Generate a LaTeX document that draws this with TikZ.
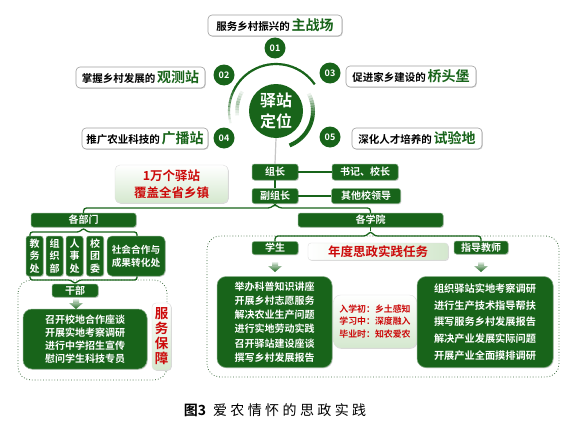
\documentclass[tikz,border=0pt]{standalone}
\usepackage{fontspec}
\setmainfont{Noto Sans CJK SC}[BoldFont={Noto Sans CJK SC Bold}]
\usetikzlibrary{shadows}
\definecolor{gdark}{RGB}{24,100,26}
\definecolor{gred}{RGB}{204,10,10}
\definecolor{gpale}{RGB}{212,232,206}
\tikzset{
 shad/.style={drop shadow={opacity=0.3, shadow xshift=0.8pt, shadow yshift=-0.8pt}},
 dbox/.style={draw=gdark!55!white, line width=0.5pt, fill=gdark, rounded corners=2.5, text=white,
   font=\bfseries\fontsize{10}{12}\selectfont, inner sep=0pt, align=center, shad},
 bigbox/.style={dbox, rounded corners=9},
 pbox/.style={draw=gray!25, line width=0.4pt, rounded corners=5, top color=white, bottom color=gpale,
   inner sep=0pt, align=center, text=gred, font=\bfseries, shad},
 lbl/.style={draw=gray!75, line width=0.6pt, fill=white, rounded corners=4, inner sep=0pt, shad},
 num/.style={circle, fill=gdark, text=white, minimum size=21, inner sep=0pt,
   font=\bfseries\fontsize{9}{9}\selectfont},
 brace/.style={draw=gdark, line width=1.3pt, rounded corners=3},
 dots/.style={draw=gdark!60!gray, line width=0.8pt, dotted, rounded corners=13},
 garrow/.pic={
   \shade[top color=white, bottom color=gdark!55!white] (-3,0) rectangle (3,5);
   \shade[top color=gdark!45!white, bottom color=gdark] (-7,5) -- (7,5) -- (0,11) -- cycle;
 }
}
\newcommand{\blk}[1]{{\fontsize{10.5}{12}\selectfont\bfseries #1}}
\newcommand{\grn}[1]{{\fontsize{14}{14}\selectfont\bfseries\color{gdark}#1}}
\begin{document}
\begin{tikzpicture}[x=1pt,y=-1pt]
\useasboundingbox[fill=white] (0,0) rectangle (569,428);

% ---------- top: station positioning ----------
\node[lbl, minimum width=134, minimum height=21] (l1) at (275,25.5) {\blk{服务乡村振兴的}\,\grn{主战场}};
\node[lbl, minimum width=129, minimum height=21] (l2) at (140.5,77.5) {\blk{掌握乡村发展的}\,\grn{观测站}};
\node[lbl, minimum width=130, minimum height=21] (l3) at (411,76.5) {\blk{促进家乡建设的}\,\grn{桥头堡}};
\node[lbl, minimum width=126, minimum height=21] (l4) at (145,138.5) {\blk{推广农业科技的}\,\grn{广播站}};
\node[lbl, minimum width=130, minimum height=21] (l5) at (417,138.5) {\blk{深化人才培养的}\,\grn{试验地}};

\node[num] (n1) at (275,48) {01};
\node[num] (n2) at (224,75) {02};
\node[num] (n3) at (330,73) {03};
\node[num] (n4) at (224,138) {04};
\node[num] (n5) at (330,137) {05};

% arcs around the centre
\begin{scope}[shift={(276,111)}, yscale=-1]
  \foreach \a in {195,190,...,40} {
    \pgfmathsetmacro\op{min(1,0.08+(195-\a)/45)}
    \draw[gdark, line width=2.2pt, opacity=\op] (\a:47) arc[start angle=\a, end angle=\a-5.5, radius=47];
  }
  \foreach \a in {28,24,...,-66} {
    \pgfmathsetmacro\op{min(1,0.08+(28-\a)/40)}
    \draw[gdark, line width=4pt, opacity=\op] (\a:37) arc[start angle=\a, end angle=\a-4.5, radius=37];
  }
  \foreach \a in {150,154,...,182} {
    \pgfmathsetmacro\op{0.08+0.25*(1-abs(\a-166)/16)}
    \draw[gdark, line width=3.5pt, opacity=\op] (\a:39) arc[start angle=\a, end angle=\a+4.5, radius=39];
  }
\end{scope}
\node[circle, fill=gdark, minimum size=54, inner sep=0pt, text=white, align=center,
  font=\bfseries\fontsize{16}{21}\selectfont] (cen) at (276,111) {驿站\\定位};

% ---------- leadership ----------
\node[dbox, minimum width=46, minimum height=16] (zz) at (275,172) {组长};
\node[dbox, minimum width=46, minimum height=15] (fzz) at (275,196) {副组长};
\node[dbox, minimum width=66, minimum height=16] (sj) at (365,172) {书记、校长};
\node[dbox, minimum width=69, minimum height=15] (qt) at (366,196) {其他校领导};
\node[pbox, minimum width=113, minimum height=38, font=\bfseries\fontsize{12.5}{16.5}\selectfont]
  (wan) at (171.5,184) {1万个驿站\\覆盖全省乡镇};

\draw[gray!45, line width=1.2pt] (cen.south) -- (zz.north);
\draw[gdark, line width=1.5pt] (zz.south) -- (fzz.north);
\draw[gdark, line width=1.5pt] (zz.east) -- (sj.west);
\draw[gdark, line width=1.5pt] (fzz.east) -- (qt.west);

% ---------- departments (left) ----------
\node[dbox, minimum width=105, minimum height=14] (bm) at (83.5,220) {各部门};
\node[dbox, minimum width=17, minimum height=40, font=\bfseries\fontsize{10}{12.5}\selectfont] (jw) at (34.5,256) {教\\务\\处};
\node[dbox, minimum width=17, minimum height=40, font=\bfseries\fontsize{10}{12.5}\selectfont] (zb) at (54.5,256) {组\\织\\部};
\node[dbox, minimum width=17, minimum height=40, font=\bfseries\fontsize{10}{12.5}\selectfont] (rs) at (74.5,256) {人\\事\\处};
\node[dbox, minimum width=17, minimum height=40, font=\bfseries\fontsize{10}{12.5}\selectfont] (tw) at (95,256) {校\\团\\委};
\node[dbox, rounded corners=5, minimum width=58, minimum height=40, font=\bfseries\fontsize{9.7}{13}\selectfont] (sh) at (136,256) {社会合作与\\成果转化处};

\draw[dots] (18,280) rectangle (167,380);
\node[dbox, minimum width=46, minimum height=13] (gb) at (75,290.5) {干部};
\node[bigbox, minimum width=124, minimum height=60, font=\bfseries\fontsize{10}{13}\selectfont] (gbb) at (85,339)
  {召开校地合作座谈\\开展实地考察调研\\进行中学招生宣传\\慰问学生科技专员};
\node[pbox, rounded corners=4, minimum width=19, minimum height=67, font=\bfseries\fontsize{13.5}{15}\selectfont]
  (fw) at (161.5,336.5) {服\\务\\保\\障};
\pic at (76,298) {garrow};

% ---------- colleges (right) ----------
\node[dbox, minimum width=145, minimum height=14] (xy) at (370.5,220) {各学院};
\draw[dots] (207,236) rectangle (559,377);
\node[dbox, minimum width=46, minimum height=13] (xs) at (275,248) {学生};
\node[pbox, rounded corners=3, left color=white, right color=gpale, minimum width=140, minimum height=17,
  font=\bfseries\fontsize{12.5}{14}\selectfont] (rw) at (378,251.5) {年度思政实践任务};
\node[dbox, minimum width=54, minimum height=13] (js) at (481,247.5) {指导教师};
\node[bigbox, minimum width=115, minimum height=91, font=\bfseries\fontsize{10}{14.3}\selectfont] (stb) at (274.5,322)
  {举办科普知识讲座\\开展乡村志愿服务\\解决农业生产问题\\进行实地劳动实践\\召开驿站建设座谈\\撰写乡村发展报告};
\node[pbox, rounded corners=7, minimum width=83, minimum height=53, font=\bfseries\fontsize{8.9}{12.3}\selectfont]
  (mid) at (375,321.5) {入学初：乡土感知\\学习中：深度融入\\毕业时：知农爱农};
\node[bigbox, minimum width=136, minimum height=91, font=\bfseries\fontsize{10.2}{16.7}\selectfont] (teb) at (485,322)
  {组织驿站实地考察调研\\进行生产技术指导帮扶\\撰写服务乡村发展报告\\解决产业发展实际问题\\开展产业全面摸排调研};
\pic at (275,261) {garrow};
\pic at (481,261) {garrow};

% ---------- braces ----------
\draw[brace] (bm.north) |- (271,208) -- (275,204) -- (279,208) -| (xy.north);
\draw[gdark, line width=1.3pt] (fzz.south) -- (275,204);
\draw[brace, rounded corners=2.5] (jw.north -| 30,0) |- (79.5,232) -- (83.5,228) -- (87.5,232) -| (sh.north -| 137,0);
\draw[brace, rounded corners=2.5] (jw.south -| 30,0) |- (71,280) -- (75,284) -- (79,280) -| (sh.south -| 137,0);
\draw[brace] (xs.north) |- (366.5,236) -- (370.5,231) -- (374.5,236) -| (js.north);
\draw[gdark, line width=1.3pt] (xy.south) -- (370.5,231);

% ---------- caption ----------
\node[font=\fontsize{14}{14}\selectfont] (cap) at (275,410)
  {\textbf{图3}\kern7pt 爱\kern3.4pt 农\kern3.4pt 情\kern3.4pt 怀\kern3.4pt 的\kern3.4pt 思\kern3.4pt 政\kern3.4pt 实\kern3.4pt 践};
\end{tikzpicture}
\end{document}
